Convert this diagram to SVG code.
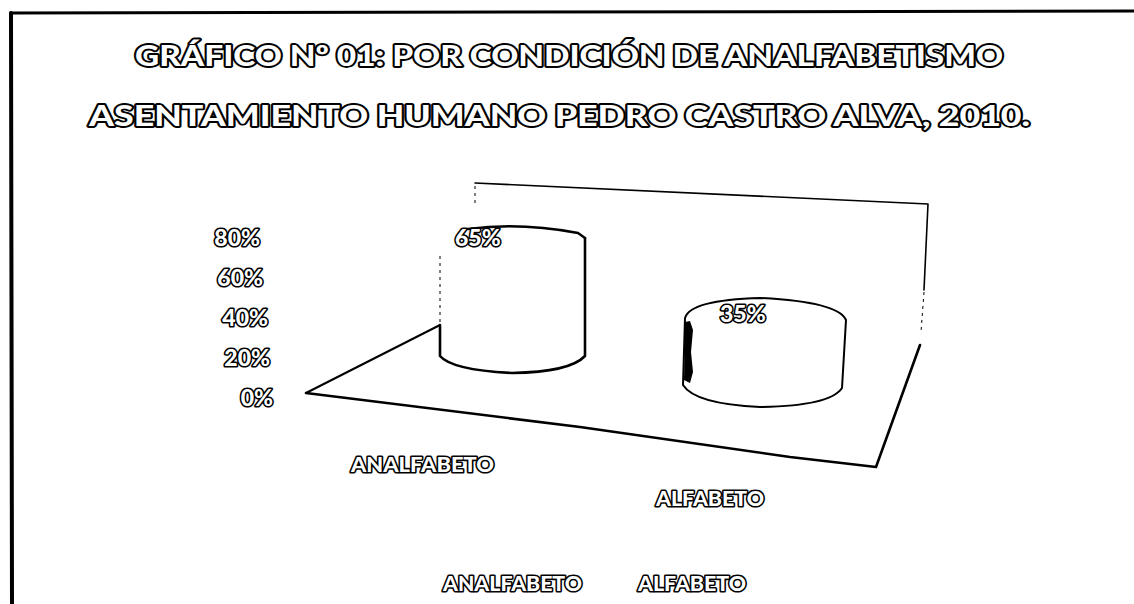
<svg xmlns="http://www.w3.org/2000/svg" width="1134" height="604" viewBox="0 0 1134 604">
<style>
.o{font-family:Lato,"Open Sans","Liberation Sans",sans-serif;font-weight:900;fill:#fff;stroke:#000;stroke-linejoin:round;paint-order:stroke}
.tt{font-size:29px;stroke-width:3.8}
.s{font-size:21px;stroke-width:3.2}
.p{font-size:23px;stroke-width:3.2}
.ln{fill:none;stroke:#000;stroke-linecap:round;stroke-linejoin:round}
.dash{fill:none;stroke:#000;stroke-width:1;stroke-dasharray:3 4}
</style>
<rect width="1134" height="604" fill="#fff"/>
<g id="frame">
<path class="ln" d="M11,13 L1134,11" stroke-width="3"/>
<path class="ln" d="M11,13 L12,604" stroke-width="4"/>
</g>
<g id="title">
<text class="o tt" x="135" y="66" textLength="868" lengthAdjust="spacingAndGlyphs">GRÁFICO Nº 01: POR CONDICIÓN DE ANALFABETISMO</text>
<text class="o tt" x="89" y="126" textLength="941" lengthAdjust="spacingAndGlyphs">ASENTAMIENTO HUMANO PEDRO CASTRO ALVA, 2010.</text>
</g>
<g id="walls">
<path class="ln" d="M475,183 L928,204 L924,290" stroke-width="1.6"/>
<path class="dash" d="M475,186 L475,206"/>
<path class="dash" d="M924,292 L921,332"/>
<path class="ln" d="M306,393 L440,325" stroke-width="2"/>
<path class="ln" d="M306,393 L580,427 L790,457 L876,467 L920,345" stroke-width="2.6"/>
</g>
<g id="series-analfabeto">
<path class="dash" d="M440,256 L440,324" stroke-width="1.2"/>
<path class="ln" d="M440,325 L440,356 Q452,370 512,373 Q570,372 585,356 L585,238" stroke-width="2.6"/>
<path class="ln" d="M468,229 Q520,222 578,233 L585,238" stroke-width="2.4"/>
</g>
<g id="series-alfabeto">
<path class="ln" d="M685,318 Q690,300 760,298 Q838,302 846,320 L842,388 Q830,406 760,407 Q695,404 683,385 Z" stroke-width="2"/>
<path d="M685,322 L690,321 L693,330 L691,352 L693,372 L690,383 L684,380 Z" fill="#000"/>
</g>
<g id="axis">
<text class="o p" x="260" y="246" text-anchor="end">80%</text>
<text class="o p" x="263" y="286" text-anchor="end">60%</text>
<text class="o p" x="268" y="326" text-anchor="end">40%</text>
<text class="o p" x="270" y="366" text-anchor="end">20%</text>
<text class="o p" x="273" y="406" text-anchor="end">0%</text>
<text class="o s" x="351" y="472" textLength="143" lengthAdjust="spacingAndGlyphs">ANALFABETO</text>
<text class="o s" x="656" y="506" textLength="108" lengthAdjust="spacingAndGlyphs">ALFABETO</text>
</g>
<g id="data-labels">
<text class="o p" x="455" y="246">65%</text>
<text class="o p" x="720" y="322">35%</text>
</g>
<g id="legend">
<text class="o s" x="443" y="591" textLength="139" lengthAdjust="spacingAndGlyphs">ANALFABETO</text>
<text class="o s" x="638" y="591" textLength="108" lengthAdjust="spacingAndGlyphs">ALFABETO</text>
</g>
</svg>
